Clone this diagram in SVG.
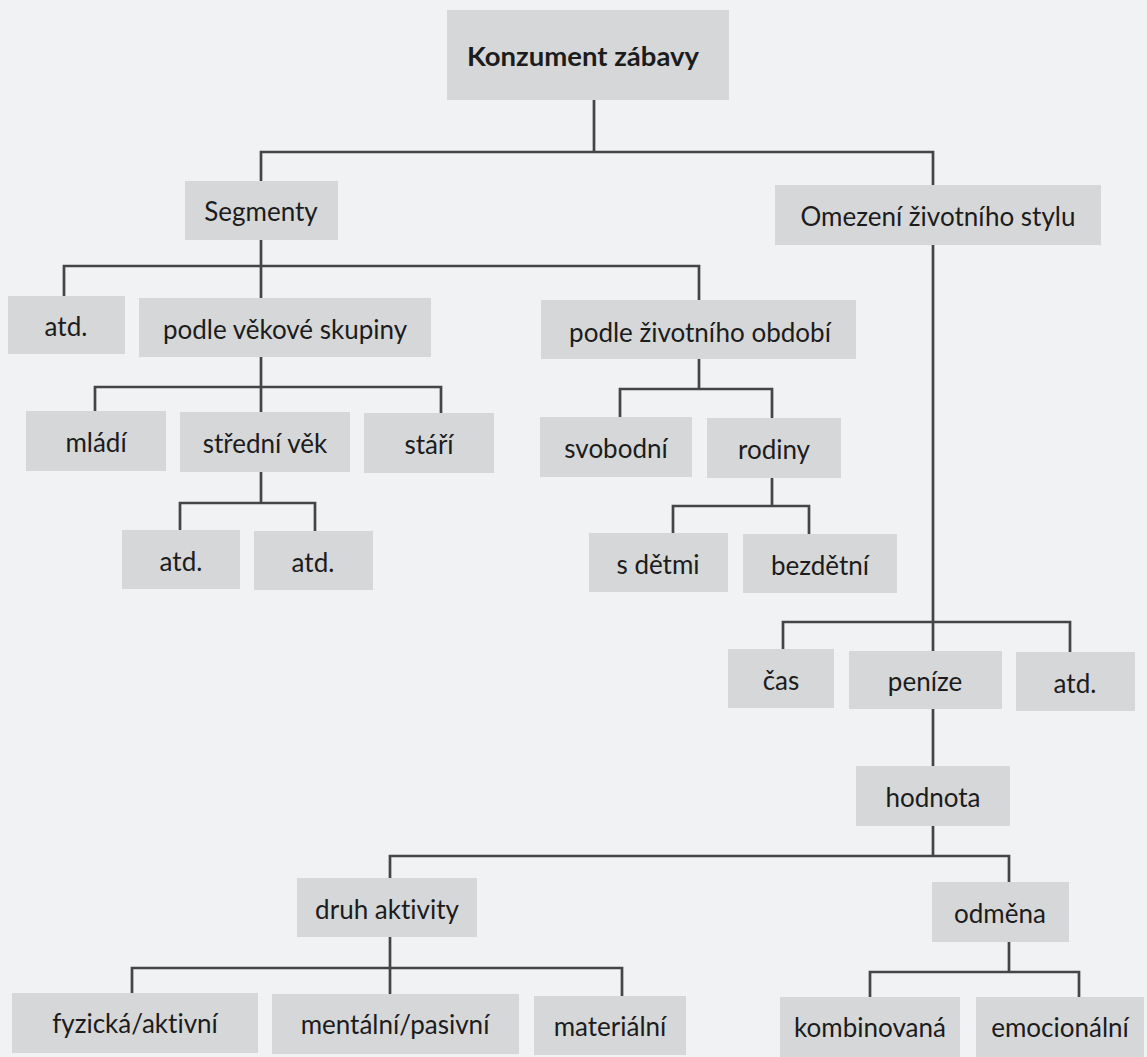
<svg xmlns="http://www.w3.org/2000/svg" width="1147" height="1057" viewBox="0 0 1147 1057">
<style>
.bg{fill:#f1f2f4}
.box{fill:#d6d7d9}
.t{font-family:Lato,"Open Sans",sans-serif;font-size:26px;fill:#1c1c1c;text-anchor:middle;font-variant-ligatures:none;font-feature-settings:"liga" 0}
.b{font-weight:bold;font-size:27.5px}
.c{fill:none;stroke:#454547;stroke-width:2.7;stroke-linecap:square}
</style>
<rect class="bg" x="0" y="0" width="1147" height="1057"/>
<g id="connectors">
<path class="c" d="M594 100V152M261 181V152H933V185"/>
<path class="c" d="M261 240V266M64 296V266H699V300M261 266V298"/>
<path class="c" d="M261 357V387M95 411V387H441V413M261 387V412"/>
<path class="c" d="M261 472V503M180 530V503H315V531"/>
<path class="c" d="M699 359V389M620 417V389H772V418"/>
<path class="c" d="M772 478V506M673 533V506H809V534"/>
<path class="c" d="M933 245V622M783 649V622H1070V652M933 622V651"/>
<path class="c" d="M933 709V766"/>
<path class="c" d="M933 826V856M390 878V856H1009V882"/>
<path class="c" d="M390 937V968M132 993V968H622V996M390 968V994"/>
<path class="c" d="M1009 942V972M870 997V972H1079V997"/>
</g>
<g id="n-konzument"><rect class="box" x="447" y="10" width="282" height="90"/><text class="t b" x="583" y="66">Konzument zábavy</text></g>
<g id="n-segmenty"><rect class="box" x="185" y="181" width="153" height="59"/><text class="t" x="261" y="221">Segmenty</text></g>
<g id="n-omezeni"><rect class="box" x="775" y="185" width="326" height="60"/><text class="t" x="938" y="226">Omezení životního stylu</text></g>
<g id="n-atd1"><rect class="box" x="8" y="296" width="117" height="58"/><text class="t" x="66" y="336">atd.</text></g>
<g id="n-vekove"><rect class="box" x="139" y="298" width="292" height="59"/><text class="t" x="285" y="339">podle věkové skupiny</text></g>
<g id="n-zivotniho"><rect class="box" x="541" y="300" width="315" height="59"/><text class="t" x="700" y="342">podle životního období</text></g>
<g id="n-mladi"><rect class="box" x="26" y="411" width="140" height="60"/><text class="t" x="96" y="452">mládí</text></g>
<g id="n-stredni"><rect class="box" x="180" y="412" width="170" height="60"/><text class="t" x="265" y="453">střední věk</text></g>
<g id="n-stari"><rect class="box" x="364" y="413" width="130" height="60"/><text class="t" x="429" y="454">stáří</text></g>
<g id="n-svobodni"><rect class="box" x="540" y="417" width="152" height="60"/><text class="t" x="616" y="458">svobodní</text></g>
<g id="n-rodiny"><rect class="box" x="707" y="418" width="134" height="60"/><text class="t" x="774" y="459">rodiny</text></g>
<g id="n-atd2"><rect class="box" x="122" y="530" width="118" height="59"/><text class="t" x="181" y="571">atd.</text></g>
<g id="n-atd3"><rect class="box" x="254" y="531" width="119" height="59"/><text class="t" x="313" y="572">atd.</text></g>
<g id="n-sdetmi"><rect class="box" x="589" y="533" width="139" height="59"/><text class="t" x="658" y="574">s dětmi</text></g>
<g id="n-bezdetni"><rect class="box" x="743" y="534" width="154" height="59"/><text class="t" x="820" y="575">bezdětní</text></g>
<g id="n-cas"><rect class="box" x="728" y="649" width="106" height="59"/><text class="t" x="781" y="690">čas</text></g>
<g id="n-penize"><rect class="box" x="849" y="651" width="153" height="58"/><text class="t" x="925" y="691">peníze</text></g>
<g id="n-atd4"><rect class="box" x="1016" y="652" width="119" height="59"/><text class="t" x="1075" y="693">atd.</text></g>
<g id="n-hodnota"><rect class="box" x="856" y="766" width="154" height="60"/><text class="t" x="933" y="807">hodnota</text></g>
<g id="n-druh"><rect class="box" x="297" y="878" width="180" height="59"/><text class="t" x="387" y="919">druh aktivity</text></g>
<g id="n-odmena"><rect class="box" x="932" y="882" width="137" height="60"/><text class="t" x="1000" y="923">odměna</text></g>
<g id="n-fyzicka"><rect class="box" x="12" y="993" width="246" height="60"/><text class="t" x="135" y="1033">fyzická/aktivní</text></g>
<g id="n-mentalni"><rect class="box" x="272" y="994" width="247" height="60"/><text class="t" x="395" y="1034">mentální/pasivní</text></g>
<g id="n-materialni"><rect class="box" x="534" y="996" width="152" height="59"/><text class="t" x="610" y="1036">materiální</text></g>
<g id="n-kombinovana"><rect class="box" x="780" y="997" width="180" height="60"/><text class="t" x="870" y="1037">kombinovaná</text></g>
<g id="n-emocionalni"><rect class="box" x="976" y="997" width="168" height="60"/><text class="t" x="1060" y="1037">emocionální</text></g>
</svg>
